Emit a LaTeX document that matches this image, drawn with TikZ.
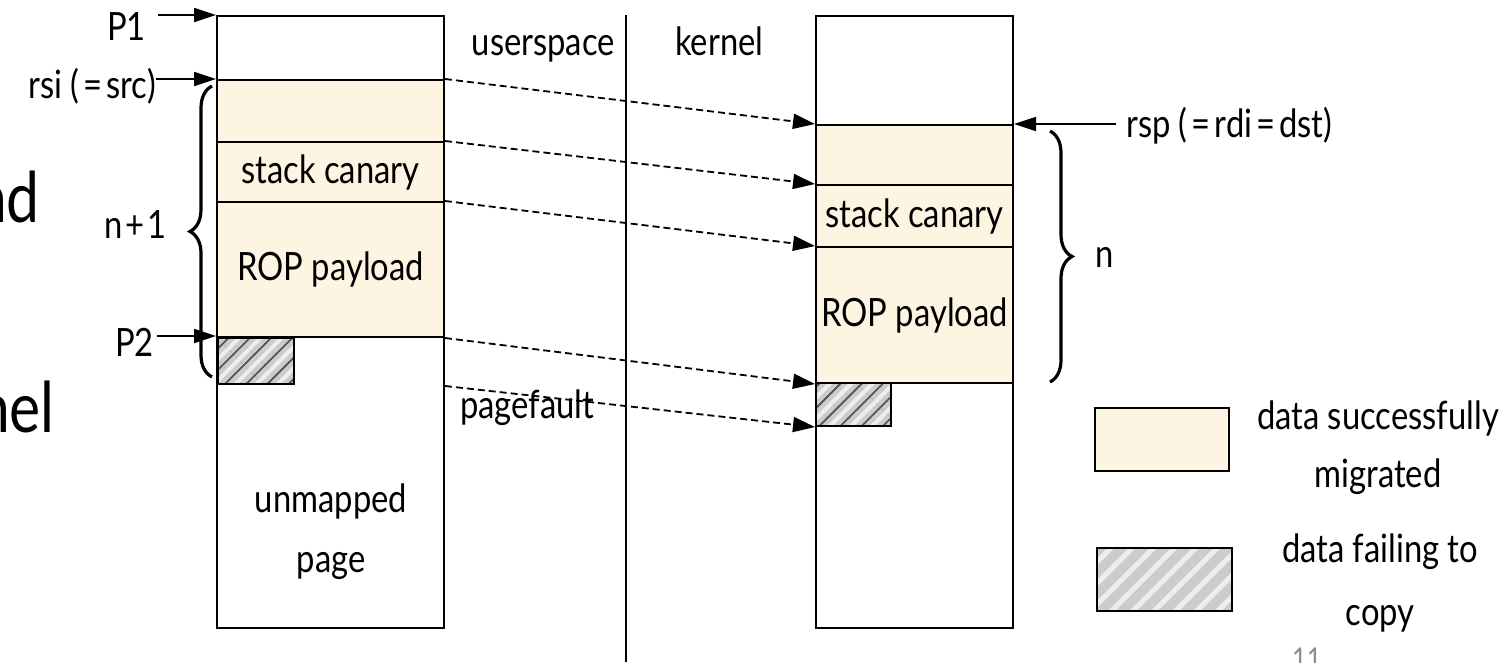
\documentclass[tikz,border=0pt]{standalone}
\usepackage{fontspec}
\setmainfont{Lato}[FakeStretch=0.84]
\usetikzlibrary{arrows.meta,patterns.meta,decorations.pathreplacing}
\definecolor{cream}{RGB}{253,245,226}
\definecolor{hatchbg}{RGB}{204,204,204}
\definecolor{hatchfg}{RGB}{238,238,238}
\definecolor{hatchdk}{RGB}{80,80,80}
\definecolor{pgnum}{RGB}{140,140,140}
\newcommand{\wideeq}{\hspace{4pt}=\hspace{4pt}}
\newcommand{\wideplus}{\hspace{3pt}+\hspace{3pt}}
\tikzset{
  lbl/.style={font=\fontsize{39}{44}\selectfont, inner sep=0pt},
  big/.style={font=\fontsize{70}{74}\selectfont, inner sep=0pt},
  frame/.style={draw, line width=2pt, anchor=north west, inner sep=0pt, font=\fontsize{39}{44}\selectfont},
  cell/.style={frame, fill=cream},
  hatchbox/.style={frame, preaction={fill=hatchbg}, pattern={Lines[angle=45,distance=15pt,line width=5pt]}, pattern color=hatchfg},
  hatchsmall/.style={frame, preaction={fill=hatchdk}, preaction={pattern={Lines[angle=45,distance=15pt,line width=13pt]}, pattern color=hatchbg}, pattern={Lines[angle=45,distance=15pt,line width=4pt]}, pattern color=hatchfg},
  darr/.style={line width=1.8pt, dash pattern=on 7pt off 4pt, -{Triangle[length=22pt,width=15pt]}},
  sarr/.style={line width=1.8pt, -{Triangle[length=22pt,width=14pt]}},
  brc/.style={decorate, decoration={brace, amplitude=22pt}, line width=3.2pt},
}
\begin{document}
\begin{tikzpicture}[x=1pt,y=-1pt]
\useasboundingbox (0,0) rectangle (1511,662);
% left column (userspace)
\node[frame, minimum width=227pt, minimum height=612pt] (L) at (216,15) {};
\node[cell, minimum width=227pt, minimum height=62pt] (L1) at (216,79) {};
\node[cell, minimum width=227pt, minimum height=60pt] (L2) at (216,141) {stack canary};
\node[cell, minimum width=227pt, minimum height=135pt] (L3) at (216,201) {ROP payload};
\node[hatchsmall, minimum width=76pt, minimum height=46pt] (Lh) at (216,336) {};
\node[lbl, anchor=base] (um1) at (331,512) {unmapped};
\node[lbl, anchor=base] (um2) at (331,572) {page};
% right column (kernel)
\node[frame, minimum width=197pt, minimum height=612pt] (R) at (815,15) {};
\node[cell, minimum width=197pt, minimum height=60pt] (R1) at (815,124) {};
\node[cell, minimum width=197pt, minimum height=62pt] (R2) at (815,184) {stack canary};
\node[cell, minimum width=197pt, minimum height=136pt] (R3) at (815,246) {ROP payload};
\node[hatchsmall, minimum width=75pt, minimum height=43pt] (Rh) at (815,382) {};
% divider
\coordinate (dtop) at (626,15);
\coordinate (dbot) at (626,662);
\draw[line width=2pt] (dtop) -- (dbot);
\node[lbl, anchor=base east] (us) at (615,55) {userspace};
\node[lbl, anchor=base west] (kn) at (675,55) {kernel};
\node[lbl, anchor=base west] (pf) at (460,418) {pagefault};
% copy arrows
\draw[darr] (L1.north east) -- (R1.north west);
\draw[darr] (L2.north east) -- (R2.north west);
\draw[darr] (L3.north east) -- (R3.north west);
\draw[darr] (L3.south east) -- (R3.south west);
\draw[darr] (L.east |- Lh.south) -- (Rh.south west);
% pointer labels
\node[lbl, anchor=base east] (P1) at (146,40) {P1};
\draw[sarr] (P1.east |- L.north west) ++(12,0) -- (L.north west);
\node[lbl, anchor=base east] (rsi) at (156,98) {rsi (\wideeq src)};
\draw[sarr] (rsi.east |- L1.north west) -- (L1.north west);
\node[lbl, anchor=base east] (P2) at (154,356) {P2};
\draw[sarr] (P2.east |- Lh.north west) ++(3,0) -- (Lh.north west);
\node[lbl, anchor=base west] (rsp) at (1126,137) {rsp (\wideeq rdi\wideeq dst)};
\draw[sarr] (rsp.west |- R1.north east) ++(-10,0) -- (R1.north east);
% braces
\coordinate (bl1) at (212,377);
\coordinate (bl2) at (212,86);
\draw[brc] (bl1) -- (bl2);
\node[lbl, anchor=base east] (np1) at (167,238) {n\wideplus 1};
\coordinate (br1) at (1050,131);
\coordinate (br2) at (1050,382);
\draw[brc] (br1) -- (br2);
\node[lbl, anchor=base west] (nn) at (1095,267) {n};
% legend
\node[cell, minimum width=134pt, minimum height=63pt] (leg1) at (1094,407) {};
\node[hatchbox, minimum width=135pt, minimum height=63pt] (leg2) at (1094,545) {};
\node[lbl, anchor=base] (lt1) at (1378,429) {data successfully};
\node[lbl, anchor=base] (lt2) at (1378,487) {migrated};
\node[lbl, anchor=base] (lt3) at (1380,562) {data failing to};
\node[lbl, anchor=base] (lt4) at (1380,625) {copy};
\node[inner sep=0pt, anchor=base west, text=pgnum, font=\fontsize{30}{30}\selectfont] (pg) at (1292,669) {11};
% cut-off slide text at the left edge
\node[big, anchor=base east] (t1) at (40,222) {nd};
\node[big, anchor=base east] (t2) at (55,432) {nel};
\end{tikzpicture}
\end{document}
